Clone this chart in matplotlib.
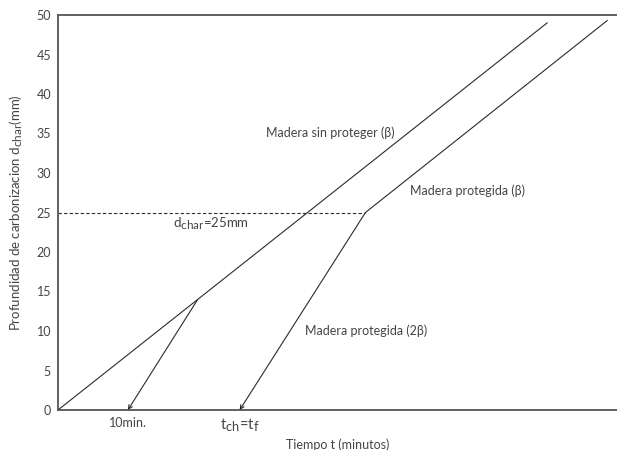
import numpy as np
import matplotlib
matplotlib.use('Agg')
import matplotlib.pyplot as plt
import matplotlib._mathtext as mathtext

# subscripts in the reference are nearly full size
mathtext.SHRINK_FACTOR = 0.88

# data (tiempo en minutos, profundidad en mm)
unprotT = [0, 20, 70]
unprotD = [0, 14, 49]
fallT = [10, 20]
fallD = [0, 14]
protT = [26, 44, 78.6]
protD = [0, 25, 49.3]
charDepth = 25
yTicks = [0, 5, 10, 15, 20, 25, 30, 35, 40, 45, 50]
xTicks = [10, 26]
xTickLabels = ['10min.', r'$\mathregular{t_{ch}}$=$\mathregular{t_f}$']

plt.rcParams['font.family'] = ['Lato', 'DejaVu Sans']
plt.rcParams['mathtext.fontset'] = 'custom'
plt.rcParams['mathtext.rm'] = 'Lato'
txtCol = '#444444'
lineCol = '#2b2b2b'

fig = plt.figure(figsize=(6.17, 4.5), dpi=100)
ax = fig.add_axes([58/617, 40/450, 559/617, 395/450])

ax.plot(unprotT, unprotD, color=lineCol, lw=0.8)
ax.plot(protT[1:], protD[1:], color=lineCol, lw=0.8)
ax.plot([0, protT[1]], [charDepth, charDepth], color=lineCol, lw=0.8, ls=(0, (3, 2)))

# descending lines with arrow heads on the time axis
for tt, dd in [(fallT, fallD), (protT[:2], protD[:2])]:
    ax.annotate('', xy=(tt[0], dd[0]), xytext=(tt[1], dd[1]),
                arrowprops=dict(arrowstyle='->', color=lineCol, lw=0.8,
                                shrinkA=0, shrinkB=0, mutation_scale=7))

fs = 9
ax.text(29.7, 35.1, 'Madera sin proteger (β)', fontsize=fs, color=txtCol, va='center')
ax.text(50.4, 27.8, 'Madera protegida (β)', fontsize=fs, color=txtCol, va='center')
ax.text(35.3, 10.0, 'Madera protegida (2β)', fontsize=fs, color=txtCol, va='center')
ax.text(16.5, 23.6, r'd$\mathregular{_{char}}$=25mm', fontsize=9.5, color=txtCol, va='center')

ax.set_xlim(0, 80)
ax.set_ylim(0, 50)
ax.set_yticks(yTicks)
ax.set_xticks(xTicks)
ax.set_xticklabels(xTickLabels)
ax.tick_params(length=0, labelsize=9, colors=txtCol, pad=5)
ax.get_xticklabels()[1].set_fontsize(10.5)
ax.set_xlabel('Tiempo t (minutos)', fontsize=9, color=txtCol, labelpad=3)
ax.set_ylabel(r'Profundidad de carbonizacion d$\mathregular{_{char}}$(mm)',
              fontsize=9.5, color=txtCol, labelpad=8)

for s in ['top', 'bottom', 'left']:
    ax.spines[s].set_color('#555555')
    ax.spines[s].set_linewidth(1.3)
ax.spines['right'].set_visible(False)

fig.savefig('out.png', dpi=100)
